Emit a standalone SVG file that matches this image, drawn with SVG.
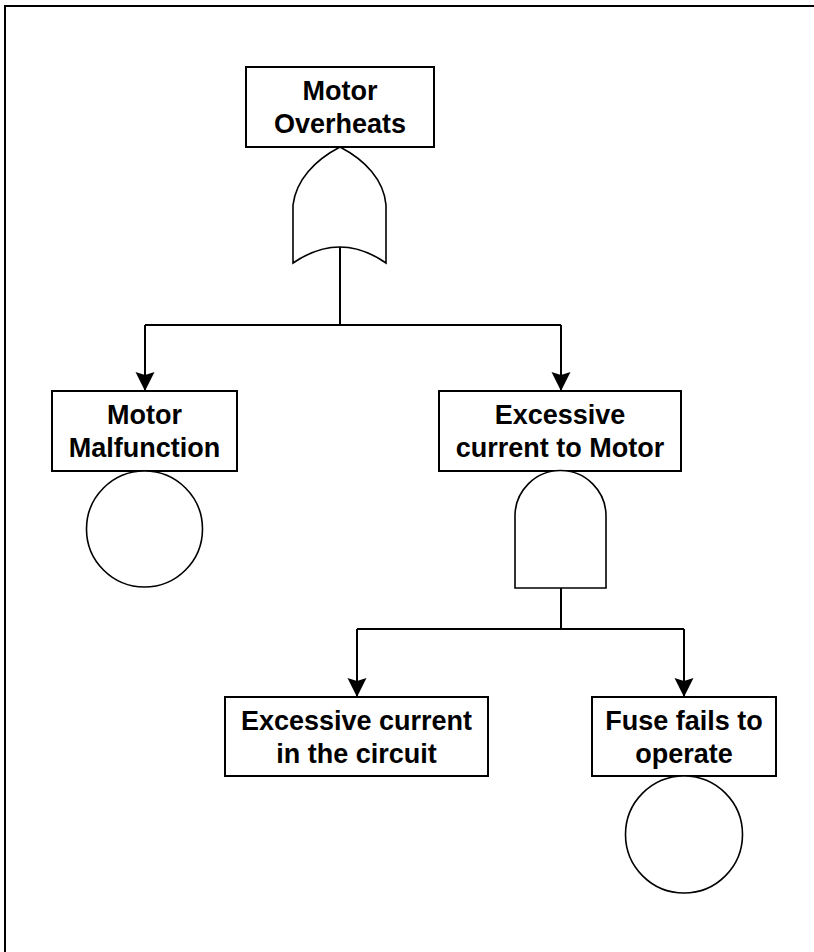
<svg xmlns="http://www.w3.org/2000/svg" width="814" height="952" viewBox="0 0 814 952">
  <style>
    .box { fill: #fff; stroke: #000; stroke-width: 2; }
    .gate { fill: #fff; stroke: #000; stroke-width: 1.6; }
    .event { fill: #fff; stroke: #000; stroke-width: 1.6; }
    .wire { fill: none; stroke: #000; stroke-width: 2; }
    .label { font-family: "Liberation Sans", Arial, sans-serif; font-weight: bold; font-size: 27px; text-anchor: middle; fill: #000; }
  </style>
  <defs>
    <marker id="arrow" markerUnits="userSpaceOnUse" markerWidth="20" markerHeight="20" viewBox="0 0 20 20" refX="19" refY="10" orient="auto">
      <path d="M0,0.5 L19,10 L0,19.5 L3,10 Z" fill="#000"/>
    </marker>
  </defs>

  <rect width="814" height="952" fill="#fff"/>
  <!-- outer frame -->
  <path d="M5,952 V6 H814" fill="none" stroke="#000" stroke-width="2"/>

  <!-- connectors -->
  <g id="connectors">
    <path class="wire" d="M340,247 V325"/>
    <path class="wire" d="M145,325 H561"/>
    <path class="wire" d="M145,325 V391" marker-end="url(#arrow)"/>
    <path class="wire" d="M561,325 V391" marker-end="url(#arrow)"/>
    <path class="wire" d="M561,588 V629"/>
    <path class="wire" d="M357,629 H684"/>
    <path class="wire" d="M357,629 V697" marker-end="url(#arrow)"/>
    <path class="wire" d="M684,629 V697" marker-end="url(#arrow)"/>
  </g>

  <g id="motor-overheats">
    <rect class="box" x="246" y="67" width="188" height="80"/>
    <text class="label" x="340" y="100">Motor</text>
    <text class="label" x="340" y="133">Overheats</text>
  </g>

  <g id="or-gate">
    <path class="gate" d="M293,205 C296,180 315,160 340,147 C365,160 384,180 386,205 V263 Q340,231 293,263 Z"/>
  </g>

  <g id="motor-malfunction">
    <rect class="box" x="52" y="391" width="185" height="80"/>
    <text class="label" x="144.5" y="424">Motor</text>
    <text class="label" x="144.5" y="457">Malfunction</text>
    <circle class="event" cx="144.5" cy="529" r="58"/>
  </g>

  <g id="excessive-current-to-motor">
    <rect class="box" x="439" y="391" width="242" height="80"/>
    <text class="label" x="560" y="424">Excessive</text>
    <text class="label" x="560" y="457">current to Motor</text>
  </g>

  <g id="and-gate">
    <path class="gate" d="M515,588 V516 A45.5,45.5 0 0 1 606,516 V588 Z"/>
  </g>

  <g id="excessive-current-circuit">
    <rect class="box" x="225" y="697" width="263" height="79"/>
    <text class="label" x="356.5" y="730">Excessive current</text>
    <text class="label" x="356.5" y="763">in the circuit</text>
  </g>

  <g id="fuse-fails">
    <rect class="box" x="592" y="697" width="184" height="79"/>
    <text class="label" x="684" y="730">Fuse fails to</text>
    <text class="label" x="684" y="763">operate</text>
    <circle class="event" cx="684" cy="834.5" r="58.5"/>
  </g>
</svg>
